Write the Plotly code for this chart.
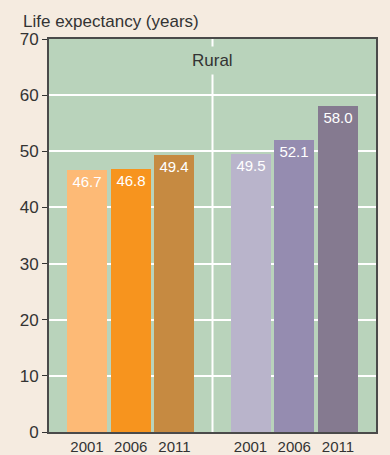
import plotly.graph_objects as go

# Life expectancy by survey year, two rural groups
years = ["2001", "2006", "2011"]
group_a = [46.7, 46.8, 49.4]
group_b = [49.5, 52.1, 58.0]
colors_a = ["#FDBA76", "#F7941E", "#C68A41"]
colors_b = ["#B9B4CB", "#958CB0", "#857A90"]
panel_label = "Rural"
y_title = "Life expectancy (years)"
y_ticks = [0, 10, 20, 30, 40, 50, 60, 70]

GROUP_SHIFT = 3.74
BAR_W = 0.915
FONT = "Liberation Sans, Arial, sans-serif"
TXT = "#333333"
PLOT_BG = "#B9D3BB"
PAPER_BG = "#F5EBE0"

xs_a = [i for i in range(len(years))]
xs_b = [i + GROUP_SHIFT for i in range(len(years))]

fig = go.Figure()
for xs, vals, cols in [(xs_a, group_a, colors_a), (xs_b, group_b, colors_b)]:
    fig.add_trace(go.Bar(
        x=xs, y=vals, width=BAR_W,
        marker=dict(color=cols, line=dict(width=0)),
        text=[f"{v:.1f}" for v in vals],
        textposition="inside", insidetextanchor="end",
        textfont=dict(color="white", size=15, family=FONT),
        textangle=0, showlegend=False, hoverinfo="skip",
    ))

mid = (xs_a[-1] + xs_b[0]) / 2
fig.add_shape(type="line", xref="x", yref="paper", x0=mid, x1=mid, y0=0, y1=1,
              line=dict(color="white", width=2), layer="between")

fig.add_annotation(x=mid, y=66.1, xref="x", yref="y", text=panel_label,
                   showarrow=False, bgcolor=PLOT_BG, borderpad=4,
                   font=dict(size=17, color=TXT, family=FONT))

fig.add_annotation(x=0, y=1, xref="paper", yref="paper",
                   xanchor="left", yanchor="bottom", yshift=6, xshift=-28,
                   text=y_title, showarrow=False,
                   font=dict(size=17, color=TXT, family=FONT))

fig.update_layout(
    width=390, height=455,
    margin=dict(l=49, r=14, t=39, b=23),
    paper_bgcolor=PAPER_BG, plot_bgcolor=PLOT_BG,
    font=dict(family=FONT, color=TXT),
    bargap=0,
)
fig.update_xaxes(
    range=[-0.87, xs_b[-1] + 0.87], automargin=False,
    tickvals=xs_a + xs_b, ticktext=years + years,
    showgrid=False, zeroline=False, ticks="",
    tickfont=dict(size=15, color=TXT),
    showline=True, mirror=True, linecolor="#4a4a4a", linewidth=2,
)
fig.update_yaxes(
    range=[0, 70], tickvals=y_ticks, automargin=False,
    showgrid=True, gridcolor="white", gridwidth=2, zeroline=False,
    ticks="outside", ticklen=5, tickcolor="#333333", tickwidth=1,
    tickfont=dict(size=17, color=TXT),
    showline=True, mirror=True, linecolor="#4a4a4a", linewidth=2,
)

fig.write_html("out.html")
